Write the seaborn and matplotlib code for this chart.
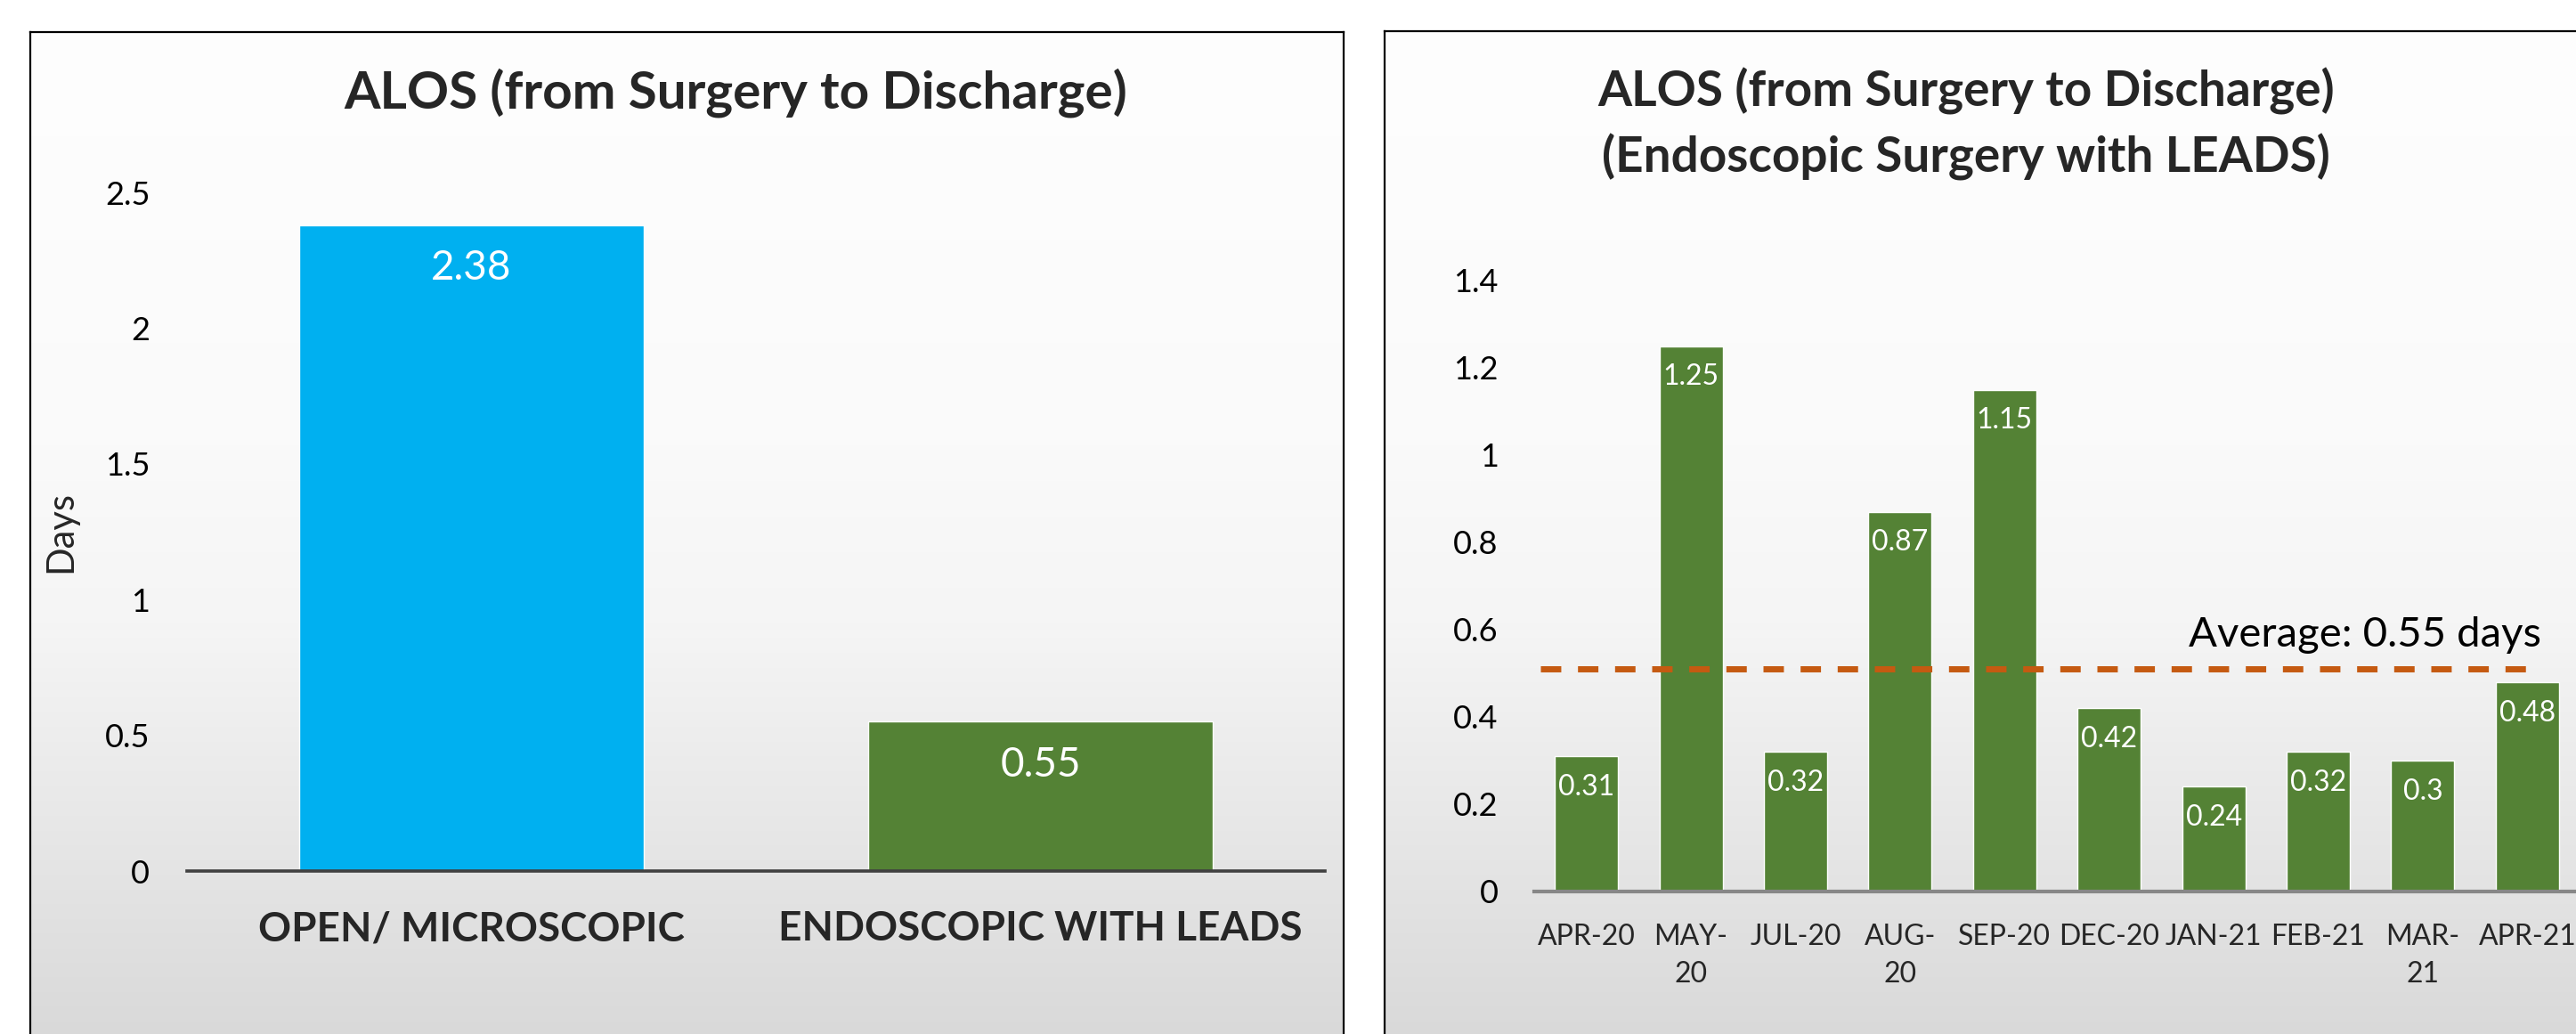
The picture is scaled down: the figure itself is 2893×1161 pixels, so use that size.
import numpy as np
import pandas as pd
import matplotlib
matplotlib.use("Agg")
import matplotlib.pyplot as plt
import seaborn as sns

# ---- data ----
left_categories = ["OPEN/ MICROSCOPIC", "ENDOSCOPIC WITH LEADS"]
left_values = [2.38, 0.55]
left_colors = ["#00B0F0", "#548235"]

right_months = ["APR-20", "MAY-\n20", "JUL-20", "AUG-\n20", "SEP-20",
                "DEC-20", "JAN-21", "FEB-21", "MAR-\n21", "APR-21"]
right_values = [0.31, 1.25, 0.32, 0.87, 1.15, 0.42, 0.24, 0.32, 0.30, 0.48]
avg_line_level = 0.51
avg_label = "Average: 0.55 days"

left_yticks = [0, 0.5, 1, 1.5, 2, 2.5]
right_yticks = [0, 0.2, 0.4, 0.6, 0.8, 1, 1.2, 1.4]

sns.set_theme(style="white")
plt.rcParams["font.family"] = ["Lato", "DejaVu Sans"]

W, H = 2893, 1161
fig = plt.figure(figsize=(W / 100, H / 100), dpi=100)
fig.patch.set_facecolor("white")


def fx(px):
    return px / W


def fy(py):
    return 1 - py / H


def panel(x0, x1, y0):
    # gradient box behind each chart
    bg = fig.add_axes([fx(x0), fy(H + 20), fx(x1 - x0), fy(y0) - fy(H + 20)], zorder=0)
    rows = np.linspace(y0, H + 20, 400)
    shade = np.interp(rows, [36, 500, 700, 1000, 1181], [254, 250, 245, 227, 216]) / 255
    img = np.repeat(shade[:, None], 2, axis=1)
    bg.imshow(np.dstack([img, img, img]), aspect="auto", extent=[0, 1, 0, 1],
              interpolation="bilinear")
    bg.set_xticks([])
    bg.set_yticks([])
    for side in ["top", "left", "right"]:
        bg.spines[side].set_color("black")
        bg.spines[side].set_linewidth(1.6)
    bg.spines["bottom"].set_visible(False)


panel(34, 1509, 36)
panel(1555, W + 40, 35)

# ---- left chart ----
ax1 = fig.add_axes([fx(210), fy(978), fx(1488 - 210), fy(216) - fy(978)], zorder=2)
ax1.set_facecolor("none")
df_left = pd.DataFrame({"cat": left_categories, "val": left_values})
sns.barplot(data=df_left, x="cat", y="val", hue="cat", palette=left_colors,
            width=0.607, saturation=1, legend=False, ax=ax1)
ax1.set_ylim(0, 2.5)
ax1.set_xlim(-0.5, 1.5)
ax1.set_yticks(left_yticks)
ax1.set_yticklabels(["0", "0.5", "1", "1.5", "2", "2.5"])
ax1.tick_params(axis="y", length=0, pad=30, labelsize=26, labelcolor="black")
ax1.tick_params(axis="x", length=0, pad=32, labelsize=33)
for lab in ax1.get_xticklabels():
    lab.set_fontweight("bold")
ax1.set_xlabel("")
ax1.set_ylabel("Days", fontsize=30, labelpad=22)
for side in ["top", "left", "right"]:
    ax1.spines[side].set_visible(False)
ax1.spines["bottom"].set_color("#404040")
ax1.spines["bottom"].set_linewidth(2.6)
for i, v in enumerate(left_values):
    ax1.annotate(f"{v:g}", xy=(i, v), xytext=(0, -35), textcoords="offset points",
                 ha="center", va="center", color="white", fontsize=33)
fig.text(fx(826), fy(104), "ALOS (from Surgery to Discharge)", ha="center", va="center",
         fontsize=42, fontweight="bold", zorder=3)

# ---- right chart ----
ax2 = fig.add_axes([fx(1723), fy(1001), fx(2897 - 1723), fy(315) - fy(1001)], zorder=2)
ax2.set_facecolor("none")
df_right = pd.DataFrame({"month": right_months, "val": right_values})
sns.barplot(data=df_right, x="month", y="val", color="#548235", width=0.605,
            saturation=1, ax=ax2)
ax2.set_ylim(0, 1.4)
ax2.set_xlim(-0.5, 9.5)
ax2.set_yticks(right_yticks)
ax2.set_yticklabels(["0", "0.2", "0.4", "0.6", "0.8", "1", "1.2", "1.4"])
ax2.tick_params(axis="y", length=0, pad=29, labelsize=26, labelcolor="black")
ax2.tick_params(axis="x", length=0, pad=26, labelsize=23)
for lab in ax2.get_xticklabels():
    lab.set_linespacing(1.5)
ax2.set_xlabel("")
ax2.set_ylabel("")
for side in ["top", "left", "right"]:
    ax2.spines[side].set_visible(False)
ax2.spines["bottom"].set_color("#878787")
ax2.spines["bottom"].set_linewidth(3)
for i, v in enumerate(right_values):
    ax2.annotate(f"{v:g}", xy=(i, v), xytext=(0, -25), textcoords="offset points",
                 ha="center", va="center", color="white", fontsize=23)
ax2.axhline(avg_line_level, xmin=0.006, xmax=0.963, color="#C55A11", linewidth=5,
            dashes=(3.3, 2.7), zorder=5)
ax2.annotate(avg_label, xy=(0.963, avg_line_level), xycoords=("axes fraction", "data"),
             xytext=(0, 18), textcoords="offset points", ha="right", va="baseline",
             fontsize=34, color="black")
fig.text(fx(2208), fy(139),
         "ALOS (from Surgery to Discharge)\n(Endoscopic Surgery with LEADS)",
         ha="center", va="center", fontsize=39.5, fontweight="bold", linespacing=1.48,
         zorder=3)

fig.savefig("out.png", dpi=100)
